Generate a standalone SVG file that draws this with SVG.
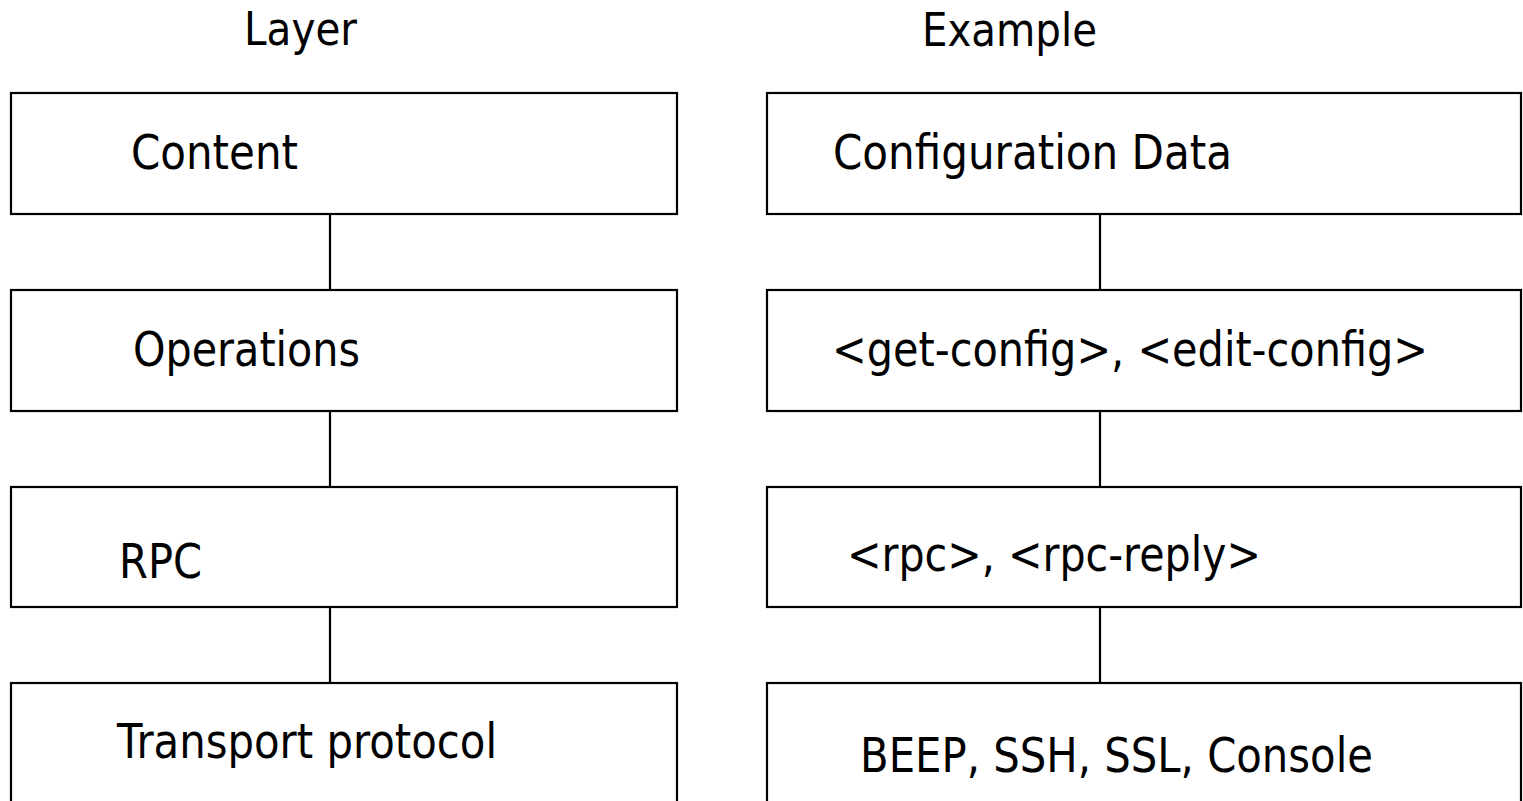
<svg xmlns="http://www.w3.org/2000/svg" width="1523" height="801" viewBox="0 0 1523 801">
<style>
.box{fill:#fff;stroke:#000;stroke-width:2.2}
.conn{stroke:#000;stroke-width:2.2;fill:none}
.t{font-family:"DejaVu Sans","Liberation Sans",sans-serif;font-size:48px;fill:#000}
.h{font-family:"DejaVu Sans","Liberation Sans",sans-serif;font-size:47px;fill:#000}
</style>
<rect width="1523" height="801" fill="#fff"/>
<g id="headers">
<text class="h" x="244" y="45" textLength="113" lengthAdjust="spacingAndGlyphs">Layer</text>
<text class="h" x="922" y="46" textLength="175" lengthAdjust="spacingAndGlyphs">Example</text>
</g>
<g id="connectors">
<line class="conn" x1="330" y1="214" x2="330" y2="290"/>
<line class="conn" x1="330" y1="411" x2="330" y2="487"/>
<line class="conn" x1="330" y1="607" x2="330" y2="683"/>
<line class="conn" x1="1100" y1="214" x2="1100" y2="290"/>
<line class="conn" x1="1100" y1="411" x2="1100" y2="487"/>
<line class="conn" x1="1100" y1="607" x2="1100" y2="683"/>
</g>
<g id="layer-content">
<rect class="box" x="11" y="93" width="666" height="121"/>
<text class="t" x="131" y="169" textLength="167" lengthAdjust="spacingAndGlyphs">Content</text>
</g>
<g id="layer-operations">
<rect class="box" x="11" y="290" width="666" height="121"/>
<text class="t" x="133" y="366" textLength="227" lengthAdjust="spacingAndGlyphs">Operations</text>
</g>
<g id="layer-rpc">
<rect class="box" x="11" y="487" width="666" height="120"/>
<text class="t" x="119" y="578" textLength="83" lengthAdjust="spacingAndGlyphs">RPC</text>
</g>
<g id="layer-transport">
<rect class="box" x="11" y="683" width="666" height="140"/>
<text class="t" x="117" y="758" textLength="380" lengthAdjust="spacingAndGlyphs">Transport protocol</text>
</g>
<g id="example-config">
<rect class="box" x="767" y="93" width="754" height="121"/>
<text class="t" x="833" y="169" textLength="399" lengthAdjust="spacingAndGlyphs">Configuration Data</text>
</g>
<g id="example-ops">
<rect class="box" x="767" y="290" width="754" height="121"/>
<text class="t" x="832" y="366" textLength="596" lengthAdjust="spacingAndGlyphs">&lt;get-config&gt;, &lt;edit-config&gt;</text>
</g>
<g id="example-rpc">
<rect class="box" x="767" y="487" width="754" height="120"/>
<text class="t" x="847" y="571" textLength="414" lengthAdjust="spacingAndGlyphs">&lt;rpc&gt;, &lt;rpc-reply&gt;</text>
</g>
<g id="example-transport">
<rect class="box" x="767" y="683" width="754" height="140"/>
<text class="t" x="860" y="772" textLength="513" lengthAdjust="spacingAndGlyphs">BEEP, SSH, SSL, Console</text>
</g>
</svg>
